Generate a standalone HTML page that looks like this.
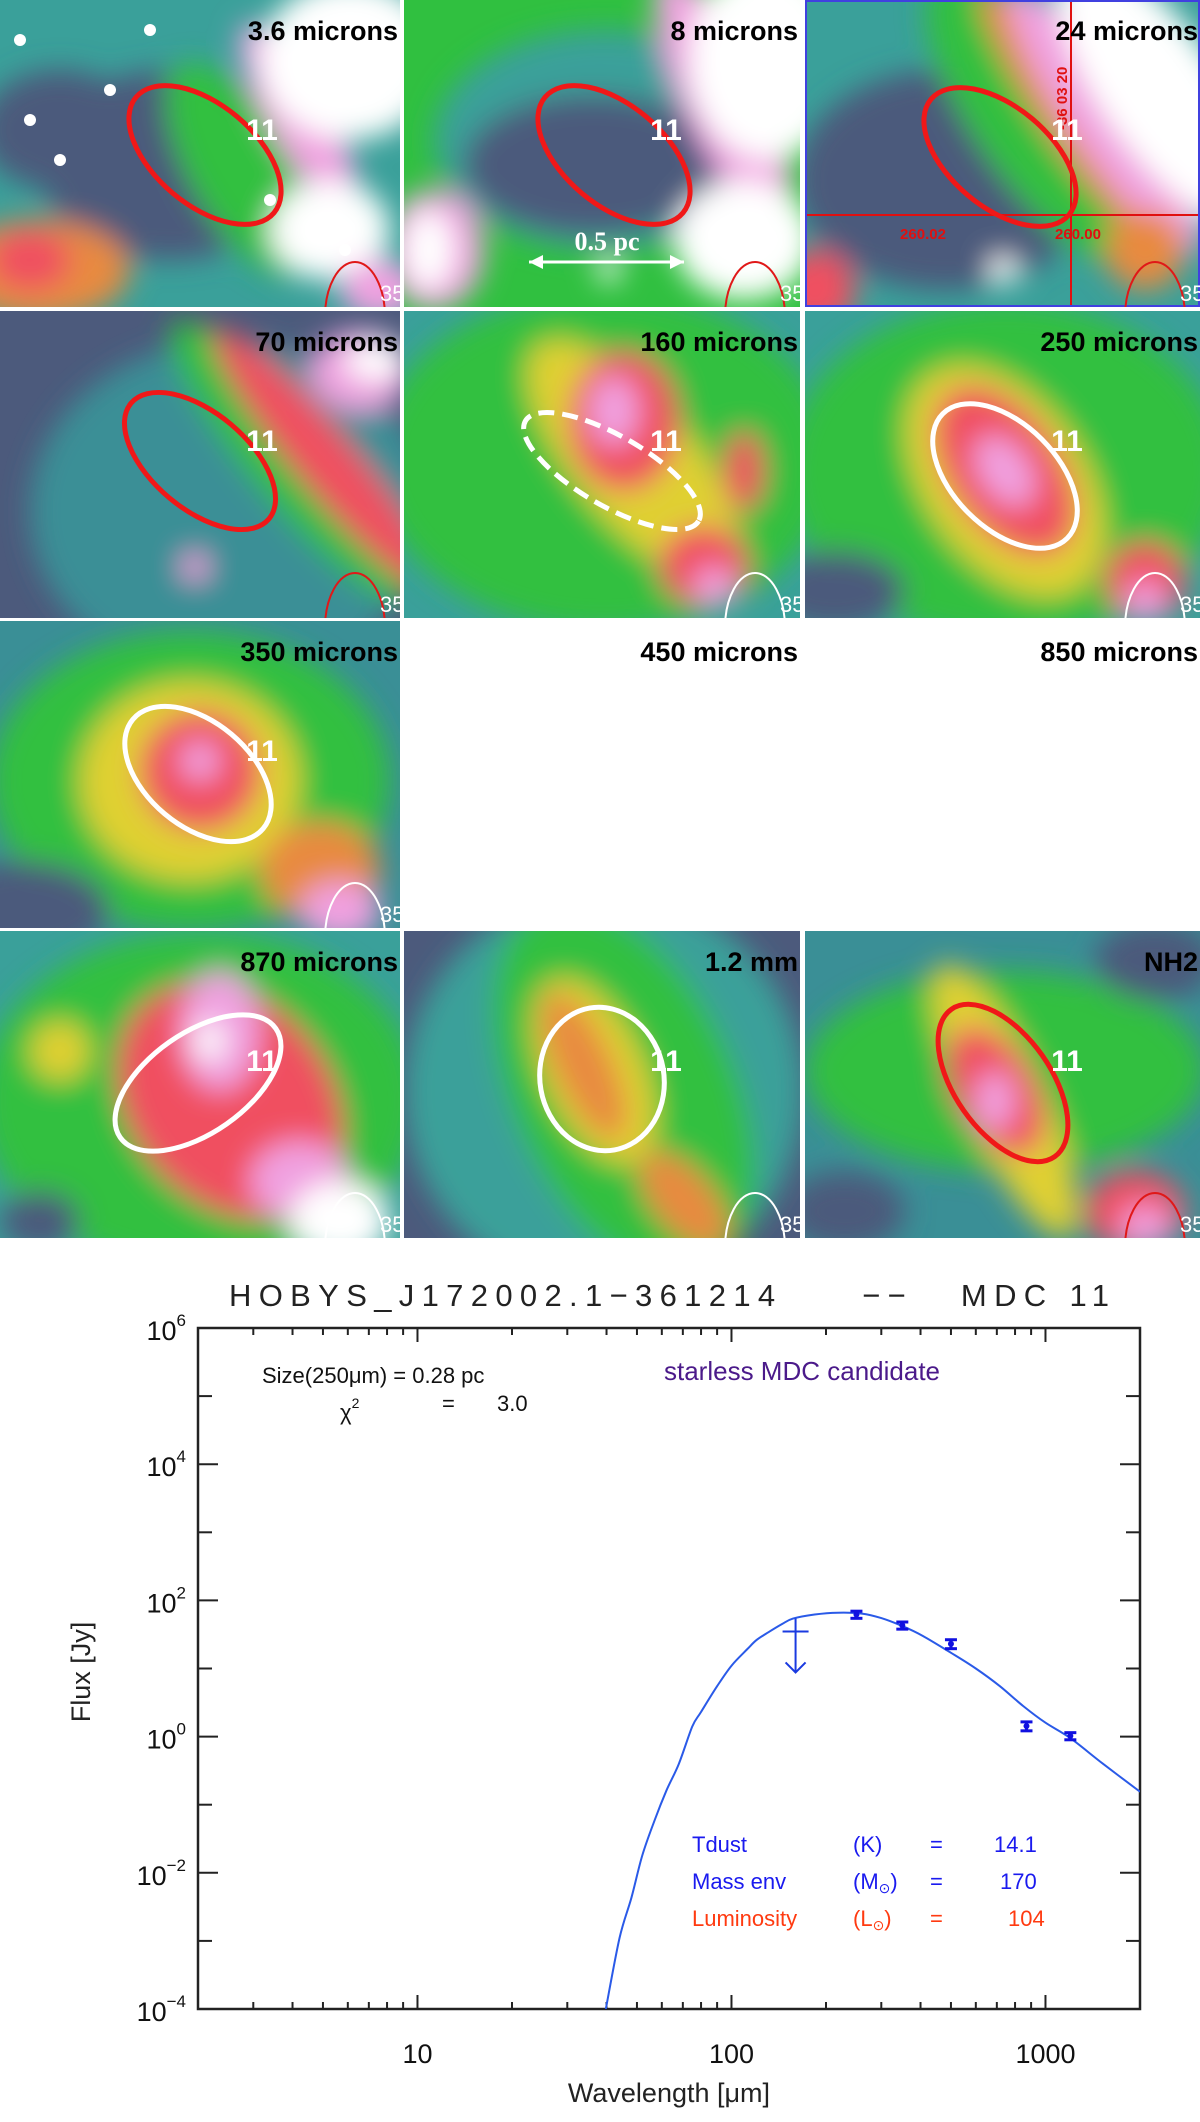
<!DOCTYPE html>
<html><head><meta charset="utf-8"><style>
html,body{margin:0;padding:0;background:#fff;width:1200px;height:2122px;overflow:hidden}
svg{position:absolute;left:0;top:0}
</style></head><body>
<svg id="maps" width="1200" height="1240" viewBox="0 0 1200 1240">
<defs><filter id="bl" x="-20%" y="-20%" width="140%" height="140%"><feGaussianBlur stdDeviation="14"/></filter></defs>
</svg>
<svg id="chart" width="1200" height="2122" viewBox="0 0 1200 2122" style="pointer-events:none"></svg>
<script>
var NS='http://www.w3.org/2000/svg';
function mk(tag,attrs,parent){var e=document.createElementNS(NS,tag);for(var k in attrs)e.setAttribute(k,attrs[k]);if(parent)parent.appendChild(e);return e;}
var DK='#4c5a7c',TL='#3aa09a',TL2='#3a8f96',GR='#30c040',YL='#e0d030',OR='#e88a40',RD='#f05060',PK='#f0a0e0',WH='#ffffff';
var colX=[0,404,805],rowY=[0,311,621,931],colW=[400,396,395],H=307;
var panels=[
{t:'3.6 microns',c:0,r:0,bg:TL,b:[[60,130,80,60,DK],[170,165,130,95,DK],[240,170,50,120,GR,-30],[300,120,30,110,PK,-30],[350,60,90,80,WH],[330,230,60,50,WH],[40,270,90,50,OR],[30,260,40,30,RD],[380,290,40,30,PK]],e:[205,155,90,50,40,'#f01818',0],arc:'#e01818',dots:[[20,40],[150,30],[110,90],[60,160],[270,200],[345,250],[30,120]]},
{t:'8 microns',c:1,r:0,bg:GR,b:[[200,140,170,110,TL],[190,165,130,70,DK],[320,100,40,140,PK,-25],[365,60,80,100,WH],[340,240,70,60,WH],[30,250,50,60,PK],[25,250,25,40,WH],[205,270,12,12,WH]],e:[210,155,90,50,40,'#f01818',0],arc:'#e01818',dots:[]},
{t:'24 microns',c:2,r:0,bg:TL,b:[[140,180,150,110,DK],[230,120,60,170,GR,-35],[270,120,30,160,OR,-35],[300,120,35,160,PK,-35],[355,90,60,160,WH,-35],[198,270,14,14,WH],[10,290,40,40,RD],[340,250,40,40,OR]],e:[195,157,90,50,40,'#f01818',0],arc:'#e01818',dots:[]},
{t:'70 microns',c:0,r:1,bg:DK,b:[[230,200,200,170,TL2],[290,150,40,180,GR,-40],[325,150,30,170,RD,-40],[360,60,50,40,PK],[375,50,30,20,WH],[195,256,14,14,PK]],e:[200,150,90,48,40,'#f01818',0],arc:'#e01818',dots:[]},
{t:'160 microns',c:1,r:1,bg:TL,b:[[200,150,230,170,GR],[230,150,60,150,YL,-40],[220,110,55,70,RD],[210,100,25,35,PK],[300,255,45,40,RD],[310,275,20,20,PK],[340,160,20,40,RD]],e:[208,160,100,35,30,'#ffffff',1],arc:'#ffffff',dots:[]},
{t:'250 microns',c:2,r:1,bg:TL,b:[[200,160,220,170,GR],[200,170,80,130,YL,-35],[200,160,55,95,RD,-35],[200,160,25,40,PK,-35],[340,270,40,40,RD],[340,290,20,20,PK],[30,280,70,40,DK]],e:[200,165,88,52,45,'#ffffff',0],arc:'#ffffff',dots:[]},
{t:'350 microns',c:0,r:2,bg:TL2,b:[[190,160,200,150,GR],[190,160,110,100,YL],[200,150,60,60,RD],[200,140,20,20,PK],[320,250,60,50,OR],[340,290,40,30,PK],[20,290,90,50,DK]],e:[198,153,85,52,40,'#ffffff',0],arc:'#ffffff',dots:[]},
{t:'450 microns',c:1,r:2,bg:null},
{t:'850 microns',c:2,r:2,bg:null},
{t:'870 microns',c:0,r:3,bg:TL,b:[[200,170,220,170,GR],[230,170,100,130,RD,-40],[220,100,40,60,PK],[210,110,15,20,WH],[300,250,50,40,PK],[340,290,50,40,WH],[60,120,30,30,YL],[40,290,40,30,DK]],e:[198,152,95,50,-35,'#ffffff',0],arc:'#ffffff',dots:[]},
{t:'1.2 mm',c:1,r:3,bg:DK,b:[[200,160,200,200,TL],[220,160,110,200,GR,-25],[190,140,50,100,YL,-25],[180,135,28,80,OR,-25],[280,270,30,60,OR,-40]],e:[198,148,72,62,80,'#ffffff',0],arc:'#ffffff',dots:[]},
{t:'NH2',c:2,r:3,bg:TL2,b:[[200,140,200,100,GR],[200,170,40,150,YL,-25],[190,160,40,70,RD,-30],[190,170,20,30,PK],[330,280,50,40,RD],[340,295,25,20,PK],[350,30,60,40,DK],[40,280,60,40,DK]],e:[198,152,90,48,55,'#f01818',0],arc:'#e01818',dots:[]}
];
var maps=document.getElementById('maps');
panels.forEach(function(p,i){
  var x0=colX[p.c],y0=rowY[p.r],w=colW[p.c];
  var g=mk('g',{transform:'translate('+x0+','+y0+')'},maps);
  
  
  var cp=mk('clipPath',{id:'cp'+i},g);mk('rect',{x:0,y:0,width:w,height:H},cp);
  var inner=mk('g',{'clip-path':'url(#cp'+i+')'},g);
  if(p.bg){
    mk('rect',{x:0,y:0,width:w,height:H,fill:p.bg},inner);
    var bg=mk('g',{filter:'url(#bl)'},inner);
    p.b.forEach(function(b){mk('ellipse',{cx:b[0],cy:b[1],rx:b[2],ry:b[3],fill:b[4],transform:'rotate('+(b[5]||0)+' '+b[0]+' '+b[1]+')'},bg);});
    p.dots.forEach(function(d){mk('circle',{cx:d[0],cy:d[1],r:6,fill:'#fff'},inner);});
    if(i==2){
      mk('line',{x1:266,y1:0,x2:266,y2:H,stroke:'#e01010','stroke-width':2},inner);
      mk('line',{x1:0,y1:215,x2:w,y2:215,stroke:'#e01010','stroke-width':2},inner);
      var t1=mk('text',{x:118,y:239,'font-family':'Liberation Sans, sans-serif','font-size':15,'font-weight':'bold',fill:'#e01010','text-anchor':'middle'},inner);t1.textContent='260.02';
      var t2=mk('text',{x:273,y:239,'font-family':'Liberation Sans, sans-serif','font-size':15,'font-weight':'bold',fill:'#e01010','text-anchor':'middle'},inner);t2.textContent='260.00';
      var t3=mk('text',{x:0,y:0,'font-family':'Liberation Sans, sans-serif','font-size':15,'font-weight':'bold',fill:'#e01010',transform:'translate(262,130) rotate(-90)'},inner);t3.textContent='-36 03 20';
      mk('rect',{x:1,y:1,width:w-2,height:H-2,fill:'none',stroke:'#4040e0','stroke-width':2},inner);
    }
    var e=p.e;
    var el=mk('ellipse',{cx:e[0],cy:e[1],rx:e[2],ry:e[3],fill:'none',stroke:e[5],'stroke-width':5,transform:'rotate('+e[4]+' '+e[0]+' '+e[1]+')'},inner);
    if(e[6])el.setAttribute('stroke-dasharray','16 8');
    
    
    mk('ellipse',{cx:w-45,cy:H+10,rx:30,ry:55,fill:'none',stroke:p.arc,'stroke-width':2},inner);
    var n=mk('text',{x:262,y:140,'font-family':'Liberation Sans, sans-serif','font-size':30,'font-weight':'bold',fill:'#fff','text-anchor':'middle'},inner);n.textContent='11';
    var n2=mk('text',{x:w-20,y:H-6,'font-family':'Liberation Sans, sans-serif','font-size':22,fill:'#fff'},inner);n2.textContent='35';
    if(i==1){
      mk('line',{x1:125,y1:262,x2:280,y2:262,stroke:'#fff','stroke-width':3},inner);
      mk('path',{d:'M125 262 l14 -7 v14 z M280 262 l-14 -7 v14 z',fill:'#fff'},inner);
      var s=mk('text',{x:203,y:250,'font-family':'Liberation Serif, serif','font-size':26,'font-weight':'bold',fill:'#fff','text-anchor':'middle'},inner);s.textContent='0.5 pc';
    }
  }
  var t=mk('text',{x:w-2,y:40,'font-family':'Liberation Sans, sans-serif','font-size':27,'font-weight':'bold',fill:'#000','text-anchor':'end'},inner);t.textContent=p.t;
  
  
});
</script>
<script>
// ---- SED chart data ----
var obsWave=[250,350,500,870,1200];
var obsFlux=[62,43,23,1.43,1.02];
var obsErr=[0.12,0.12,0.15,0.15,0.12];
var limWave=[160];
var limFlux=[35];
var modelWave=[39.8,44,48,52,57,62,68,75,80,90,100,112,120,131,145,157,184,218,260,300,350,407,500,600,716,850,1000,1200,1524,2000];
var modelFlux=[1e-4,0.0011,0.0043,0.018,0.06,0.16,0.4,1.4,2.3,5.5,11,19,26,34,45,54,62,66,64,55,42,30,17,10,5.5,2.8,1.6,0.95,0.4,0.155];
var yTicks=[6,4,2,0,-2,-4];
var xTickLabels=[10,100,1000];

var C=document.getElementById('chart');
var L=198,R=1140,T=1328,B=2009,xMin=2,xMax=2000,yMin=-4,yMax=6;
function X(v){return L+(Math.log10(v)-Math.log10(xMin))/(Math.log10(xMax)-Math.log10(xMin))*(R-L);}
function Y(v){return B-(Math.log10(v)-yMin)/(yMax-yMin)*(B-T);}
var ax=mk('rect',{x:L,y:T,width:R-L,height:B-T,fill:'none',stroke:'#222','stroke-width':2.5},C);


for(var d=0;d<=3;d++){for(var m=1;m<10;m++){var v=m*Math.pow(10,d);if(v<xMin||v>xMax)continue;var len=m==1?14:7;var xx=X(v);
mk('line',{x1:xx,y1:B,x2:xx,y2:B-len,stroke:'#222','stroke-width':2},C);mk('line',{x1:xx,y1:T,x2:xx,y2:T+len,stroke:'#222','stroke-width':2},C);}}
xTickLabels.forEach(function(v){var t=mk('text',{x:X(v),y:2063,'font-family':'Liberation Sans, sans-serif','font-size':27,fill:'#111','text-anchor':'middle'},C);t.textContent=v;

});
for(var e=yMin;e<=yMax;e++){var yy=Y(Math.pow(10,e));var len=(e%2==0)?20:14;
mk('line',{x1:L,y1:yy,x2:L+len,y2:yy,stroke:'#222','stroke-width':2},C);mk('line',{x1:R,y1:yy,x2:R-len,y2:yy,stroke:'#222','stroke-width':2},C);}
yTicks.forEach(function(e){var yy=Y(Math.pow(10,e));var t=mk('text',{x:L-12,y:yy+12,'font-family':'Liberation Sans, sans-serif','font-size':27,fill:'#111','text-anchor':'end'},C);
t.innerHTML='10<tspan dy="-14" font-size="17">'+(e<0?'\u2212'+(-e):e)+'</tspan>';

});
// model curve (Catmull-Rom smoothing through read points)
var pts=modelWave.map(function(w,i){return [X(w),Y(modelFlux[i])];});
var dpath='M'+pts[0][0].toFixed(1)+' '+pts[0][1].toFixed(1);
for(var i=0;i<pts.length-1;i++){var p0=pts[Math.max(0,i-1)],p1=pts[i],p2=pts[i+1],p3=pts[Math.min(pts.length-1,i+2)];
dpath+=' C'+(p1[0]+(p2[0]-p0[0])/6).toFixed(1)+' '+(p1[1]+(p2[1]-p0[1])/6).toFixed(1)+' '+(p2[0]-(p3[0]-p1[0])/6).toFixed(1)+' '+(p2[1]-(p3[1]-p1[1])/6).toFixed(1)+' '+p2[0].toFixed(1)+' '+p2[1].toFixed(1);}
var cp2=mk('clipPath',{id:'plotclip'},C);mk('rect',{x:L,y:T,width:R-L,height:B-T},cp2);
var cv=mk('path',{d:dpath,fill:'none',stroke:'#2a5ae8','stroke-width':2,'clip-path':'url(#plotclip)'},C);


obsWave.forEach(function(w,i){var f=obsFlux[i],x=X(w),y=Y(f),y1=Y(f*(1+obsErr[i])),y2=Y(f*(1-obsErr[i]));
var g=mk('g',{stroke:'#1010e0','stroke-width':3,fill:'#1010e0'},C);


mk('line',{x1:x,y1:y1,x2:x,y2:y2},g);mk('line',{x1:x-6,y1:y1,x2:x+6,y2:y1},g);mk('line',{x1:x-6,y1:y2,x2:x+6,y2:y2},g);mk('circle',{cx:x,cy:y,r:3,stroke:'none'},g);});
limWave.forEach(function(w,i){var x=X(w),y=Y(limFlux[i]);var g=mk('g',{stroke:'#1a3ae0','stroke-width':2,fill:'none'},C);


mk('line',{x1:x-13,y1:y,x2:x+13,y2:y},g);mk('line',{x1:x,y1:y-13,x2:x,y2:y+41},g);mk('path',{d:'M'+(x-10)+' '+(y+31)+' L'+x+' '+(y+41)+' L'+(x+10)+' '+(y+31)},g);});
function txt(s,x,y,size,col,anchor,name){var t=mk('text',{x:x,y:y,'font-family':'Liberation Sans, sans-serif','font-size':size,fill:col,'text-anchor':anchor||'start'},C);t.innerHTML=s;

return t;}
txt('HOBYS_J172002.1\u2212361214&#160;&#160;&#160;&#160;&#160;\u2212\u2212&#160;&#160;&#160;MDC 11',669,1306,31,'#222','middle','chart-title').setAttribute('textLength','880');
txt('Size(250\u03bcm) = 0.28 pc',262,1383,22,'#111','start','size-annotation');
txt('\u03c7<tspan dy="-12" font-size="14">2</tspan>',340,1420,22,'#111','start','chi2-label');
txt('=',442,1411,22,'#111','start','chi2-eq');
txt('3.0',497,1411,22,'#111','start','chi2-value');
txt('starless MDC candidate',664,1380,26,'#4b1a8a','start','classification-label');
txt('Tdust',692,1852,22,'#1a1aef','start','tdust-label');txt('(K)',853,1852,22,'#1a1aef','start','tdust-unit');txt('=',930,1852,22,'#1a1aef','start','tdust-eq');txt('14.1',994,1852,22,'#1a1aef','start','tdust-value');
txt('Mass env',692,1889,22,'#1a1aef','start','mass-label');txt('(M<tspan font-size="14" dy="4">\u2299</tspan><tspan dy="-4">)</tspan>',853,1889,22,'#1a1aef','start','mass-unit');txt('=',930,1889,22,'#1a1aef','start','mass-eq');txt('170',1000,1889,22,'#1a1aef','start','mass-value');
txt('Luminosity',692,1926,22,'#ff3a10','start','lum-label');txt('(L<tspan font-size="14" dy="4">\u2299</tspan><tspan dy="-4">)</tspan>',853,1926,22,'#ff3a10','start','lum-unit');txt('=',930,1926,22,'#ff3a10','start','lum-eq');txt('104',1008,1926,22,'#ff3a10','start','lum-value');
txt('Wavelength [\u03bcm]',669,2102,27,'#222','middle','x-axis-title');
var yt=txt('Flux [Jy]',0,0,27,'#222','middle','y-axis-title');yt.setAttribute('transform','translate(90,1672) rotate(-90)');
</script>
</body></html>
